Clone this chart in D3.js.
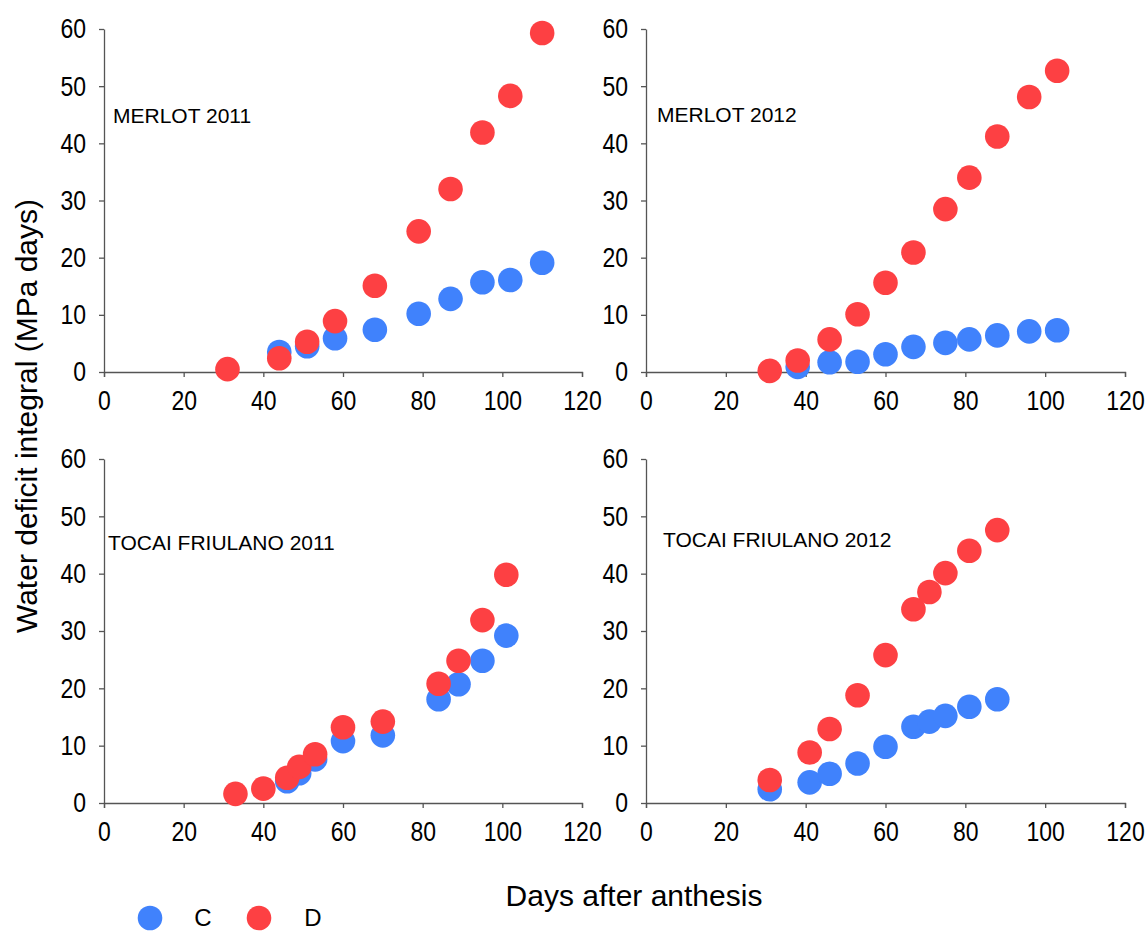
<!DOCTYPE html>
<html>
<head>
<meta charset="utf-8">
<script src="https://cdn.jsdelivr.net/npm/d3@7"></script>
<style>
  body { margin: 0; background: #fff; }
  svg text { font-family: "Liberation Sans", Arial, sans-serif; fill: #000; }
</style>
</head>
<body>
<svg id="chart" width="1148" height="931"></svg>
<script>
// tick values shared by every panel
const xTicks = [0, 20, 40, 60, 80, 100, 120];
const yTicks = [0, 10, 20, 30, 40, 50, 60];

// panel titles
const panelNames = ["MERLOT 2011", "MERLOT 2012", "TOCAI FRIULANO 2011", "TOCAI FRIULANO 2012"];

// MERLOT 2011
const merlot11Days_C = [44, 51, 58, 68, 79, 87, 95, 102, 110];
const merlot11_C     = [3.5, 4.5, 5.9, 7.4, 10.2, 12.8, 15.7, 16.1, 19.1];
const merlot11Days_D = [31, 44, 51, 58, 68, 79, 87, 95, 102, 110];
const merlot11_D     = [0.5, 2.4, 5.3, 8.9, 15.1, 24.6, 32.0, 41.9, 48.3, 59.3];

// MERLOT 2012
const merlot12Days_C = [38, 46, 53, 60, 67, 75, 81, 88, 96, 103];
const merlot12_C     = [0.9, 1.7, 1.8, 3.1, 4.4, 5.1, 5.7, 6.4, 7.1, 7.3];
const merlot12Days_D = [31, 38, 46, 53, 60, 67, 75, 81, 88, 96, 103];
const merlot12_D     = [0.2, 2.0, 5.7, 10.1, 15.6, 20.9, 28.5, 34.0, 41.2, 48.1, 52.7];

// TOCAI FRIULANO 2011
const tocai11Days_C = [46, 49, 53, 60, 70, 84, 89, 95, 101];
const tocai11_C     = [3.8, 5.2, 7.6, 10.8, 11.8, 18.1, 20.7, 24.8, 29.2];
const tocai11Days_D = [33, 40, 46, 49, 53, 60, 70, 84, 89, 95, 101];
const tocai11_D     = [1.6, 2.5, 4.4, 6.3, 8.5, 13.2, 14.2, 20.8, 24.8, 31.9, 39.8];

// TOCAI FRIULANO 2012
const tocai12Days_C = [31, 41, 46, 53, 60, 67, 71, 75, 81, 88];
const tocai12_C     = [2.4, 3.6, 5.1, 6.9, 9.8, 13.3, 14.2, 15.2, 16.8, 18.1];
const tocai12Days_D = [31, 41, 46, 53, 60, 67, 71, 75, 81, 88];
const tocai12_D     = [4.0, 8.8, 12.9, 18.8, 25.8, 33.8, 36.8, 40.1, 44.0, 47.6];

const colorC = "#4082fc";
const colorD = "#fd4043";

const svg = d3.select("#chart");

// layout of the 4 panels
const panels = [
  {name: panelNames[0], x0: 104, x1: 582, y0: 372, y1: 29,  daysC: merlot11Days_C, C: merlot11_C, daysD: merlot11Days_D, D: merlot11_D, lx: 113, ly: 123},
  {name: panelNames[1], x0: 646, x1: 1125, y0: 372, y1: 29, daysC: merlot12Days_C, C: merlot12_C, daysD: merlot12Days_D, D: merlot12_D, lx: 657, ly: 122},
  {name: panelNames[2], x0: 104, x1: 582, y0: 803, y1: 459, daysC: tocai11Days_C, C: tocai11_C, daysD: tocai11Days_D, D: tocai11_D, lx: 108, ly: 550},
  {name: panelNames[3], x0: 646, x1: 1125, y0: 803, y1: 459, daysC: tocai12Days_C, C: tocai12_C, daysD: tocai12Days_D, D: tocai12_D, lx: 663, ly: 547}
];

// tick digits in the original are a bit taller than Arial, stretch them vertically
const tickStretch = 1.2;

panels.forEach(function(p) {
  const x = d3.scaleLinear().domain([0, 120]).range([p.x0, p.x1]);
  const y = d3.scaleLinear().domain([0, 60]).range([p.y0, p.y1]);

  const g = svg.append("g");

  // x axis
  const gx = g.append("g")
      .attr("transform", "translate(0," + p.y0 + ")")
      .call(d3.axisBottom(x).tickValues(xTicks).tickSize(5).tickPadding(10).tickSizeOuter(5));
  // y axis
  const gy = g.append("g")
      .attr("transform", "translate(" + p.x0 + ",0)")
      .call(d3.axisLeft(y).tickValues(yTicks).tickSize(5).tickPadding(13).tickSizeOuter(0));

  [gx, gy].forEach(function(a) {
    a.select(".domain").attr("stroke", "#555").attr("stroke-width", 1.3);
    a.selectAll(".tick line").attr("stroke", "#555").attr("stroke-width", 1.3);
    a.selectAll(".tick text")
        .style("font-size", "23px")
        .attr("fill", "#000")
        .attr("transform", "scale(1," + tickStretch + ")");
  });

  // panel title
  g.append("text")
      .attr("x", p.lx)
      .attr("y", p.ly)
      .style("font-size", "21px")
      .text(p.name);

  // C points then D points on top
  g.selectAll(".c")
      .data(p.C)
      .enter().append("circle")
      .attr("cx", (d, i) => x(p.daysC[i]))
      .attr("cy", d => y(d))
      .attr("r", 12.3)
      .attr("fill", colorC);

  g.selectAll(".d")
      .data(p.D)
      .enter().append("circle")
      .attr("cx", (d, i) => x(p.daysD[i]))
      .attr("cy", d => y(d))
      .attr("r", 12.3)
      .attr("fill", colorD);
});

// axis titles
svg.append("text")
    .attr("transform", "translate(37,416) rotate(-90)")
    .attr("text-anchor", "middle")
    .style("font-size", "30px")
    .text("Water deficit integral (MPa days)");

svg.append("text")
    .attr("x", 634)
    .attr("y", 906)
    .attr("text-anchor", "middle")
    .style("font-size", "30px")
    .text("Days after anthesis");

// legend
const legendItems = [{label: "C", color: colorC, cx: 150, tx: 203}, {label: "D", color: colorD, cx: 259, tx: 313}];
const legend = svg.append("g");
legendItems.forEach(function(d) {
  legend.append("circle").attr("cx", d.cx).attr("cy", 918).attr("r", 12.3).attr("fill", d.color);
  legend.append("text")
      .attr("x", d.tx)
      .attr("y", 926)
      .attr("text-anchor", "middle")
      .style("font-size", "24px")
      .text(d.label);
});
</script>
</body>
</html>
